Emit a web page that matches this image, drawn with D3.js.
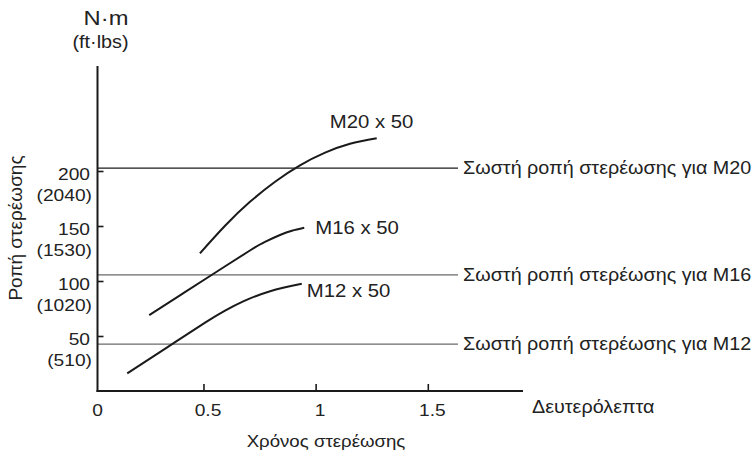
<!DOCTYPE html>
<html>
<head>
<meta charset="utf-8">
<script src="https://cdn.jsdelivr.net/npm/d3@7"></script>
<style>
  html, body { margin: 0; padding: 0; background: #fff; }
  svg { display: block; }
  text { font-family: "Liberation Sans", Arial, Helvetica, sans-serif; fill: #222; }
</style>
</head>
<body>
<svg id="chart" width="753" height="455"></svg>
<script>
// Tightening torque versus tightening time for three bolt sizes
const xTicks = [0, 0.5, 1, 1.5];
const yTicks = [50, 100, 150, 200];
const yTickSub = ["(510)", "(1020)", "(1530)", "(2040)"];

const seriesNames = ["M20 x 50", "M16 x 50", "M12 x 50"];
const m20 = [[0.482, 125.6], [0.594, 150.7], [0.705, 172.4], [0.817, 190.7], [0.928, 205.6], [1.040, 217.1], [1.151, 225.2], [1.27, 230.2]];
const m16 = [[0.256, 69.5], [0.393, 87.4], [0.534, 105.9], [0.705, 128.2], [0.772, 136.1], [0.839, 142.3], [0.892, 146.2], [0.947, 148.9]];
const m12 = [[0.158, 16.5], [0.331, 39.5], [0.505, 62.6], [0.594, 73.5], [0.675, 81.9], [0.795, 91.2], [0.936, 97.9]];

const refNames = ["Σωστή ροπή στερέωσης για M20", "Σωστή ροπή στερέωσης για M16", "Σωστή ροπή στερέωσης για M12"];
const refValues = [203, 106, 43];

const unitMain = "N·m";
const unitSub = "(ft·lbs)";
const yTitle = "Ροπή στερέωσης";
const xTitle = "Χρόνος στερέωσης";
const xUnit = "Δευτερόλεπτα";

// layout
const SX = 1.13;              // horizontal stretch of the lettering
const axisX = 97.5, axisY = 391;
const axisTop = 66, axisRight = 523, refEnd = 458;

const svg = d3.select("#chart");
const x = d3.scaleLinear().domain([0, 1.5]).range([91.8, 428.3]);
const y = d3.scaleLinear().domain([0, 200]).range([391.5, 171.5]);

function txt(px, py, s, size, anchor, rot, sx) {
  const k = sx === undefined ? SX : sx;
  return svg.append("text")
    .attr("transform", `translate(${px},${py}) scale(${k},1)` + (rot ? ` rotate(${rot})` : ""))
    .attr("text-anchor", anchor || "start")
    .style("font-size", size + "px")
    .text(s);
}

// reference torque lines
const refColors = ["#1a1a1a", "#6a6a6a", "#6a6a6a"];
refValues.forEach((v, i) => {
  svg.append("line")
    .attr("x1", axisX).attr("x2", refEnd)
    .attr("y1", y(v)).attr("y2", y(v))
    .attr("stroke", refColors[i]).attr("stroke-width", 1.2);
  txt(463, y(v) + 6, refNames[i], 17.5, "start");
});

// axes
svg.append("line").attr("x1", axisX).attr("x2", axisX).attr("y1", axisTop).attr("y2", axisY + 1)
  .attr("stroke", "#1a1a1a").attr("stroke-width", 2);
svg.append("line").attr("x1", axisX - 1).attr("x2", axisRight).attr("y1", axisY).attr("y2", axisY)
  .attr("stroke", "#1a1a1a").attr("stroke-width", 2);

// x ticks and labels
xTicks.forEach(t => {
  if (t > 0) {
    svg.append("line").attr("x1", x(t)).attr("x2", x(t)).attr("y1", axisY).attr("y2", axisY - 7)
      .attr("stroke", "#1a1a1a").attr("stroke-width", 1.6);
  }
  const lx = t === 0 ? axisX : x(t) + 4;
  txt(lx, 416, String(t), 17, "middle");
});

// y ticks and labels (N·m with ft·lbs underneath)
yTicks.forEach((t, i) => {
  svg.append("line").attr("x1", axisX).attr("x2", axisX + 6).attr("y1", y(t)).attr("y2", y(t))
    .attr("stroke", "#1a1a1a").attr("stroke-width", 1.6);
  txt(90, y(t) + 8, String(t), 17, "end");
  txt(92, y(t) + 29, yTickSub[i], 17, "end");
});

// torque curves
const line = d3.line().x(d => x(d[0])).y(d => y(d[1])).curve(d3.curveNatural);
const series = [m20, m16, m12];
series.forEach(s => {
  svg.append("path").datum(s).attr("d", line)
    .attr("fill", "none").attr("stroke", "#1a1a1a").attr("stroke-width", 2);
});

// curve labels, placed from the end of each curve
const labelOffsets = [[-47, -10], [11, 6], [5, 13]];
series.forEach((s, i) => {
  const end = s[s.length - 1];
  txt(x(end[0]) + labelOffsets[i][0], y(end[1]) + labelOffsets[i][1], seriesNames[i], 18, "start");
});

// units and titles
txt(106, 25, unitMain, 21, "middle");
txt(100.5, 48, unitSub, 17.5, "middle");
txt(22, 228, yTitle, 19, "middle", -90, 1);
txt(326, 447, xTitle, 16.5, "middle");
txt(532, 413, xUnit, 17.5, "start");
</script>
</body>
</html>
